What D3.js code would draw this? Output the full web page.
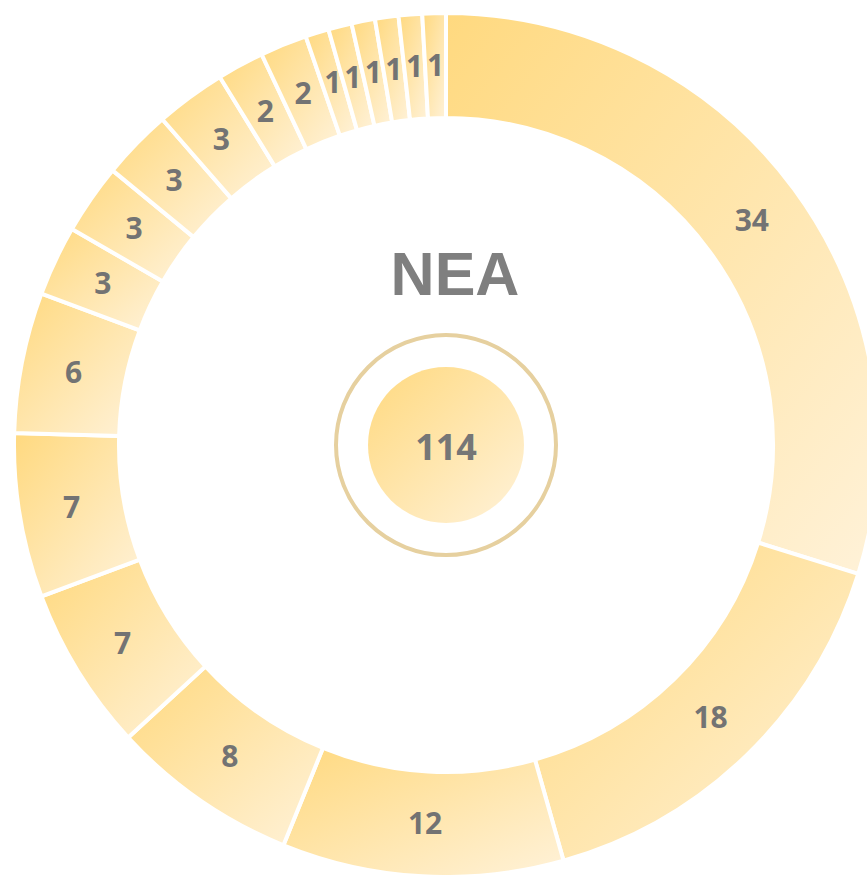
<!DOCTYPE html>
<html>
<head>
<meta charset="utf-8">
<script src="https://cdn.jsdelivr.net/npm/d3@7"></script>
<style>
  body { margin: 0; background: #fff; }
  svg { display: block; }
</style>
</head>
<body>
<svg width="867" height="875"></svg>
<script>
var values = [34, 18, 12, 8, 7, 7, 6, 3, 3, 3, 3, 2, 2, 1, 1, 1, 1, 1, 1];
var title = "NEA";
var total = d3.sum(values);

var svg = d3.select("svg"),
  cx = 446, cy = 445,
  outerR = 432, innerR = 327;

var defs = svg.append("defs");
var grad = defs.append("linearGradient")
  .attr("id", "gold")
  .attr("x1", 0).attr("y1", 0).attr("x2", 1).attr("y2", 1);
grad.append("stop").attr("offset", "0%").attr("stop-color", "#ffd97f");
grad.append("stop").attr("offset", "100%").attr("stop-color", "#fff2d9");

var pie = d3.pie().sort(null).value(function(d) { return d; });
var arc = d3.arc().innerRadius(innerR).outerRadius(outerR);

var g = svg.append("g").attr("transform", "translate(" + cx + "," + cy + ")");

var slices = g.selectAll("g.slice")
  .data(pie(values))
  .enter().append("g")
  .attr("class", "slice");

slices.append("path")
  .attr("d", arc)
  .attr("fill", "url(#gold)")
  .attr("stroke", "#fff")
  .attr("stroke-width", 4);

slices.append("text")
  .attr("transform", function(d) { return "translate(" + arc.centroid(d) + ")"; })
  .attr("text-anchor", "middle")
  .attr("dy", "0.35em")
  .attr("font-family", "'Open Sans', sans-serif")
  .attr("font-weight", "bold")
  .attr("font-size", 30)
  .attr("fill", "#737373")
  .text(function(d) { return d.data; });

// center ring and disc
g.append("circle")
  .attr("r", 110)
  .attr("fill", "none")
  .attr("stroke", "#e6d09f")
  .attr("stroke-width", 4);

g.append("circle")
  .attr("r", 78)
  .attr("fill", "url(#gold)");

g.append("text")
  .attr("y", 2)
  .attr("text-anchor", "middle")
  .attr("dy", "0.35em")
  .attr("font-family", "'Open Sans', sans-serif")
  .attr("font-weight", "bold")
  .attr("font-size", 36)
  .attr("fill", "#767676")
  .text(total);

g.append("text")
  .attr("x", 9)
  .attr("y", -150)
  .attr("text-anchor", "middle")
  .attr("font-family", "'Liberation Sans', Arial, sans-serif")
  .attr("font-weight", "bold")
  .attr("font-size", 61)
  .attr("fill", "#7f7f7f")
  .text(title);
</script>
</body>
</html>
